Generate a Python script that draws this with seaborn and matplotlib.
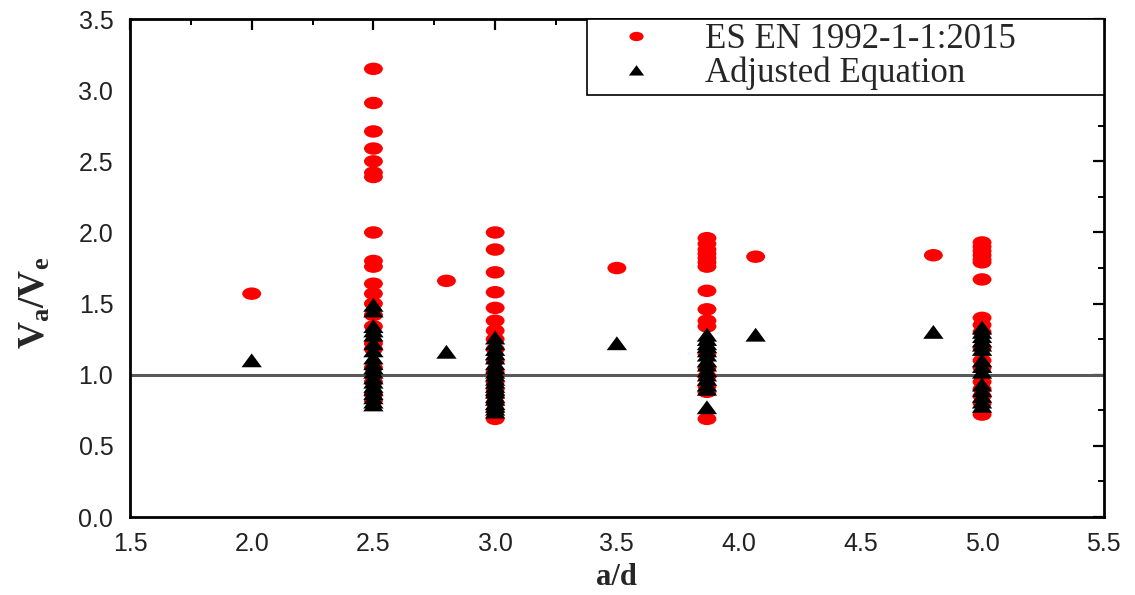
import numpy as np
import pandas as pd
import matplotlib
matplotlib.use("Agg")
import matplotlib.pyplot as plt
from matplotlib.path import Path
from matplotlib.ticker import MultipleLocator
import seaborn as sns

# Shear-span ratios tested and the resulting strength ratios for each method
es_ad = [2.0, 2.5, 2.8, 3.0, 3.5, 3.87, 4.07, 4.8, 5.0]
es_ratio = [
    [1.57],
    [3.15, 2.91, 2.71, 2.59, 2.50, 2.42, 2.39, 2.00, 1.80, 1.76, 1.64, 1.57,
     1.50, 1.42, 1.34, 1.22, 1.18, 1.05, 0.95, 0.86, 0.82],
    [1.66],
    [2.00, 1.88, 1.72, 1.58, 1.47, 1.38, 1.31, 1.25, 1.18, 1.10, 1.02, 0.95,
     0.90, 0.85, 0.80, 0.75, 0.69],
    [1.75],
    [1.96, 1.92, 1.88, 1.85, 1.82, 1.79, 1.76, 1.59, 1.46, 1.38, 1.34, 1.15,
     1.05, 0.99, 0.92, 0.88, 0.69],
    [1.83],
    [1.84],
    [1.93, 1.90, 1.87, 1.84, 1.81, 1.79, 1.67, 1.40, 1.35, 1.30, 1.19, 1.10,
     1.05, 0.95, 0.90, 0.85, 0.80, 0.72],
]

adj_ad = [2.0, 2.5, 2.8, 3.0, 3.5, 3.87, 4.07, 4.8, 5.0]
adj_ratio = [
    [1.10],
    [1.49, 1.45, 1.34, 1.31, 1.28, 1.22, 1.17, 1.12, 1.08, 1.05, 1.02, 0.98,
     0.95, 0.92, 0.90, 0.87, 0.84, 0.81, 0.79],
    [1.16],
    [1.26, 1.22, 1.18, 1.15, 1.12, 1.08, 1.05, 1.02, 1.00, 0.97, 0.95, 0.92,
     0.90, 0.88, 0.85, 0.83, 0.80, 0.78, 0.76, 0.74],
    [1.22],
    [1.28, 1.25, 1.22, 1.20, 1.17, 1.14, 1.10, 1.07, 1.03, 1.00, 0.97, 0.93,
     0.90, 0.77],
    [1.28],
    [1.30],
    [1.33, 1.30, 1.27, 1.24, 1.21, 1.18, 1.10, 1.06, 1.02, 0.93, 0.89, 0.85,
     0.81, 0.78],
]

series_names = ["ES EN 1992-1-1:2015", "Adjusted Equation"]
x_ticks = [1.5, 2.0, 2.5, 3.0, 3.5, 4.0, 4.5, 5.0, 5.5]
y_ticks = [0.0, 0.5, 1.0, 1.5, 2.0, 2.5, 3.0, 3.5]


def to_long(ads, groups, name):
    rows = []
    for a, vals in zip(ads, groups):
        for v in vals:
            rows.append({"a/d": a, "ratio": v, "method": name})
    return rows


df = pd.DataFrame(to_long(es_ad, es_ratio, series_names[0])
                  + to_long(adj_ad, adj_ratio, series_names[1]))

# Wide ellipse and flattened triangle marker shapes
circ = Path.unit_circle()
ellipse = Path(circ.vertices * np.array([1.0, 0.66]), circ.codes)
tri = Path([(-1.0, -0.66), (1.0, -0.66), (0.0, 0.70), (-1.0, -0.66)],
           [Path.MOVETO, Path.LINETO, Path.LINETO, Path.CLOSEPOLY])

sns.set_theme(style="white")
plt.rcParams["font.family"] = ["Liberation Sans", "DejaVu Sans"]
plt.rcParams["mathtext.fontset"] = "custom"
plt.rcParams["mathtext.rm"] = "Liberation Serif:bold"
plt.rcParams["mathtext.it"] = "Liberation Serif:bold"

fig = plt.figure(figsize=(11.35, 5.95), dpi=100)
ax = fig.add_axes([0.1145, 0.131, 0.858, 0.837])

ax.axhline(1.0, color="#595959", lw=2.2, zorder=1)

sns.scatterplot(
    data=df, x="a/d", y="ratio", hue="method", style="method",
    palette={series_names[0]: "#ff0000", series_names[1]: "black"},
    markers={series_names[0]: ellipse, series_names[1]: tri},
    size="method", sizes={series_names[0]: 185, series_names[1]: 215},
    linewidth=0, edgecolor="none", ax=ax, zorder=3,
)

ax.set_xlim(x_ticks[0], x_ticks[-1])
ax.set_ylim(y_ticks[0], y_ticks[-1])
ax.set_xticks(x_ticks)
ax.set_yticks(y_ticks)
ax.set_xticklabels([f"{t:.1f}" for t in x_ticks])
ax.set_yticklabels([f"{t:.1f}" for t in y_ticks])
ax.xaxis.set_minor_locator(MultipleLocator(0.25))
ax.yaxis.set_minor_locator(MultipleLocator(0.25))
ax.tick_params(which="both", direction="in", top=True, right=True,
               color="black", labelsize=18, labelcolor="#222222")
ax.tick_params(which="major", length=8, width=1.6)
ax.tick_params(axis="x", which="major", pad=11)
ax.tick_params(axis="y", which="major", pad=12)
ax.tick_params(which="minor", length=4, width=1.4)
for sp in ax.spines.values():
    sp.set_color("black")
    sp.set_linewidth(2)

ax.set_xlabel("a/d", family="Liberation Serif", fontweight="bold",
              fontsize=22)
ax.xaxis.set_label_coords(0.5, -0.093)
ax.set_ylabel(r"$\mathrm{V_a/V_e}$", fontsize=27)
ax.yaxis.set_label_coords(-0.079, 0.43)

sns.move_legend(
    ax, loc="upper right", bbox_to_anchor=(0.469, 0.845, 0.531, 0.155),
    mode="expand", title=None, frameon=True, fancybox=False,
    prop={"family": "Liberation Serif", "size": 25},
    handlelength=2.6, handletextpad=0.7, labelspacing=0.02,
    borderpad=0.12, borderaxespad=0, markerscale=0.75,
)
leg = ax.get_legend()
leg.get_frame().set_edgecolor("black")
leg.get_frame().set_linewidth(1.2)
leg.get_frame().set_alpha(1)

fig.savefig("out.png", dpi=100, facecolor="white")
